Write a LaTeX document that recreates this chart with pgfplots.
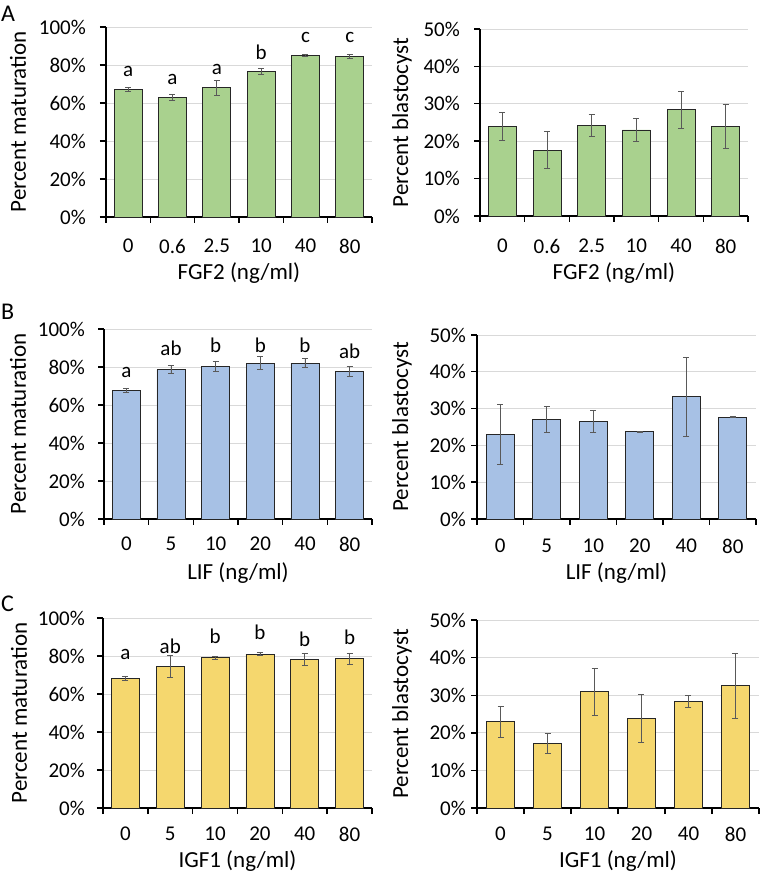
\documentclass[border=0pt]{standalone}
\usepackage{fontspec}
\setmainfont{Carlito}
\usepackage{pgfplots}
\pgfplotsset{compat=1.18}
\definecolor{barG}{HTML}{A9D18E}
\definecolor{barB}{HTML}{A7C1E5}
\definecolor{barY}{HTML}{F5D76E}
\definecolor{gridc}{HTML}{D9D9D9}
\definecolor{errc}{HTML}{595959}
\newcommand\fs{\fontsize{21}{25}\selectfont}
\newcommand\fl{\fontsize{23}{27}\selectfont}
\pgfplotsset{
  panel/.style={
    scale only axis, clip=false,
    axis x line*=bottom, axis y line*=left,
    axis line style={black, line width=1.4pt},
    xmin=0, xmax=6, ymin=0,
    xtick={0.5,1.5,...,5.5},
    minor xtick={0,...,6},
    major x tick style={draw=none},
    minor x tick style={draw=black, line width=1.4pt},
    tick align=outside, major tick length=6pt, minor tick length=6pt,
    tick style={black, line width=1.4pt},
    ymajorgrids, xmajorgrids=false, xminorgrids=false,
    y grid style={gridc, line width=0.9pt},
    tick label style={font=\fs},
    label style={font=\fl, inner sep=0pt},
    /pgf/number format/assume math mode=true,
    ybar, bar width=28pt,
  },
  xoff/.style 2 args={
    xticklabel style={anchor=center, inner sep=0pt, yshift=-#1},
    xlabel style={at={(axis description cs:0.5,0)}, anchor=center, yshift=-#2}},
  mat/.style={ymax=100, ytick={0,20,...,100}, yticklabels={0\%,20\%,40\%,60\%,80\%,100\%}, ylabel={Percent maturation}},
  bla/.style={ymax=50, ytick={0,10,...,50}, yticklabels={0\%,10\%,20\%,30\%,40\%,50\%}, ylabel={Percent blastocyst}},
  bars/.style={fill=#1, draw=black!85, line width=0.7pt,
    error bars/.cd, y dir=both, y explicit,
    error bar style={errc, line width=0.8pt},
    error mark options={rotate=90, mark size=3pt, errc, line width=0.8pt}},
}
\begin{document}
\begin{tikzpicture}
\useasboundingbox (0,0) rectangle (762pt,876pt);
\node[anchor=base west, font=\fontsize{24}{28}\selectfont, inner sep=0pt] at (1pt,854pt) {A};
\node[anchor=base west, font=\fontsize{24}{28}\selectfont, inner sep=0pt] at (1pt,556pt) {B};
\node[anchor=base west, font=\fontsize{24}{28}\selectfont, inner sep=0pt] at (1pt,264pt) {C};

% ---------- A left
\begin{axis}[panel, mat, xoff={23pt}{56pt}, at={(106pt,659pt)}, anchor=south west, width=266pt, height=190pt,
  xticklabels={0,0.6,2.5,10,40,80}, xlabel={FGF2 (ng/ml)},
  ylabel style={at={(axis description cs:-0.331,0.5)}, anchor=center},
  yticklabel style={anchor=east, inner sep=0pt, xshift=-14pt}]
\addplot[bars=barG] coordinates {(0.5,67.0) +- (0,1.1) (1.5,63.0) +- (0,1.7) (2.5,68.1) +- (0,3.9) (3.5,76.5) +- (0,1.6) (4.5,84.9) +- (0,0.5) (5.5,84.4) +- (0,1.0)};
\node[anchor=base, font=\fs] at (axis cs:0.5,74.0) {a};
\node[anchor=base, font=\fs] at (axis cs:1.5,69.5) {a};
\node[anchor=base, font=\fs] at (axis cs:2.5,75.0) {a};
\node[anchor=base, font=\fs] at (axis cs:3.5,83.0) {b};
\node[anchor=base, font=\fs] at (axis cs:4.5,91.8) {c};
\node[anchor=base, font=\fs] at (axis cs:5.5,91.8) {c};
\end{axis}

% ---------- A right
\begin{axis}[panel, bla, xoff={24pt}{57pt}, at={(480pt,660pt)}, anchor=south west, width=268pt, height=187pt,
  xticklabels={0,0.6,2.5,10,40,80}, xlabel={FGF2 (ng/ml)},
  ylabel style={at={(axis description cs:-0.291,0.5)}, anchor=center},
  yticklabel style={anchor=east, inner sep=0pt, xshift=-14pt}]
\addplot[bars=barG] coordinates {(0.5,24.0) +- (0,3.7) (1.5,17.6) +- (0,5.0) (2.5,24.2) +- (0,3.0) (3.5,23.0) +- (0,3.1) (4.5,28.4) +- (0,4.9) (5.5,24.0) +- (0,5.9)};
\end{axis}

% ---------- B left
\begin{axis}[panel, mat, xoff={19pt}{54pt}, at={(104pt,357pt)}, anchor=south west, width=268pt, height=190pt,
  xticklabels={0,5,10,20,40,80}, xlabel={LIF (ng/ml)},
  ylabel style={at={(axis description cs:-0.321,0.5)}, anchor=center},
  yticklabel style={anchor=east, inner sep=0pt, xshift=-13pt}]
\addplot[bars=barB] coordinates {(0.5,67.6) +- (0,1.0) (1.5,78.6) +- (0,2.1) (2.5,80.4) +- (0,2.5) (3.5,82.1) +- (0,3.3) (4.5,82.1) +- (0,2.3) (5.5,77.6) +- (0,2.5)};
\node[anchor=base, font=\fs] at (axis cs:0.5,74.6) {a};
\node[anchor=base, font=\fs] at (axis cs:1.5,85.8) {ab};
\node[anchor=base, font=\fs] at (axis cs:2.5,87.5) {b};
\node[anchor=base, font=\fs] at (axis cs:3.5,87.5) {b};
\node[anchor=base, font=\fs] at (axis cs:4.5,87.5) {b};
\node[anchor=base, font=\fs] at (axis cs:5.5,84.6) {ab};
\end{axis}

% ---------- B right
\begin{axis}[panel, bla, xoff={21pt}{54pt}, at={(477pt,357pt)}, anchor=south west, width=279pt, height=184pt,
  xticklabels={0,5,10,20,40,80}, xlabel={LIF (ng/ml)},
  ylabel style={at={(axis description cs:-0.269,0.5)}, anchor=center},
  yticklabel style={anchor=east, inner sep=0pt, xshift=-5pt}]
\addplot[bars=barB] coordinates {(0.5,23.0) +- (0,8.2) (1.5,27.0) +- (0,3.6) (2.5,26.4) +- (0,3.0) (3.5,23.7) +- (0,0.2) (4.5,33.2) +- (0,10.8) (5.5,27.7) +- (0,0.2)};
\end{axis}

% ---------- C left
\begin{axis}[panel, mat, xoff={20pt}{53pt}, at={(103pt,68pt)}, anchor=south west, width=269pt, height=190pt,
  xticklabels={0,5,10,20,40,80}, xlabel={IGF1 (ng/ml)},
  ylabel style={at={(axis description cs:-0.312,0.5)}, anchor=center},
  yticklabel style={anchor=east, inner sep=0pt, xshift=-12pt}]
\addplot[bars=barY] coordinates {(0.5,68.0) +- (0,1.0) (1.5,74.5) +- (0,5.6) (2.5,79.1) +- (0,0.7) (3.5,81.0) +- (0,0.7) (4.5,78.0) +- (0,3.2) (5.5,78.6) +- (0,3.0)};
\node[anchor=base, font=\fs] at (axis cs:0.5,78.0) {a};
\node[anchor=base, font=\fs] at (axis cs:1.5,81.2) {ab};
\node[anchor=base, font=\fs] at (axis cs:2.5,86.8) {b};
\node[anchor=base, font=\fs] at (axis cs:3.5,88.6) {b};
\node[anchor=base, font=\fs] at (axis cs:4.5,85.1) {b};
\node[anchor=base, font=\fs] at (axis cs:5.5,85.8) {b};
\end{axis}

% ---------- C right
\begin{axis}[panel, bla, xoff={20pt}{53pt}, at={(477pt,68pt)}, anchor=south west, width=282pt, height=188pt,
  xticklabels={0,5,10,20,40,80}, xlabel={IGF1 (ng/ml)},
  ylabel style={at={(axis description cs:-0.266,0.5)}, anchor=center},
  yticklabel style={anchor=east, inner sep=0pt, xshift=-5pt}]
\addplot[bars=barY] coordinates {(0.5,23.0) +- (0,4.1) (1.5,17.2) +- (0,2.7) (2.5,30.9) +- (0,6.3) (3.5,23.8) +- (0,6.4) (4.5,28.3) +- (0,1.6) (5.5,32.5) +- (0,8.6)};
\end{axis}
\end{tikzpicture}
\end{document}
